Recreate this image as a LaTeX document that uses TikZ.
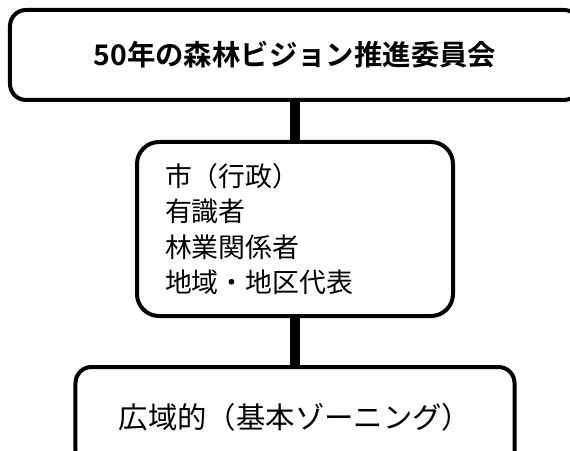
\documentclass[tikz,border=0pt]{standalone}
\usepackage{fontspec}
\setmainfont{Noto Sans CJK JP}
\newfontfamily\jpbold{Noto Sans CJK JP Bold}
\begin{document}
\begin{tikzpicture}[x=1bp,y=-1bp,
  boxstyle/.style={draw=black,line width=4bp,fill=white,rounded corners=16bp,inner sep=0pt},
  linkstyle/.style={draw=black,line width=10bp}]
\useasboundingbox (0,0) rectangle (570,451);
\node[boxstyle,minimum width=570bp,minimum height=90bp,font=\jpbold\fontsize{28.5}{32}\selectfont] (top) at (295,55) {50年の森林ビジョン推進委員会};
\node[boxstyle,rounded corners=22bp,minimum width=316bp,minimum height=174bp,text width=260bp,align=left,inner xsep=28bp,font=\fontsize{27}{35.5}\selectfont] (mid) at (295,229) {市（行政）\\有識者\\林業関係者\\地域・地区代表};
\node[boxstyle,minimum width=439bp,minimum height=100bp,font=\fontsize{29.5}{32}\selectfont] (bot) at (295,417) {広域的（基本ゾーニング）};
\draw[linkstyle] (top.south) -- (mid.north);
\draw[linkstyle] (mid.south) -- (bot.north);
\end{tikzpicture}
\end{document}
